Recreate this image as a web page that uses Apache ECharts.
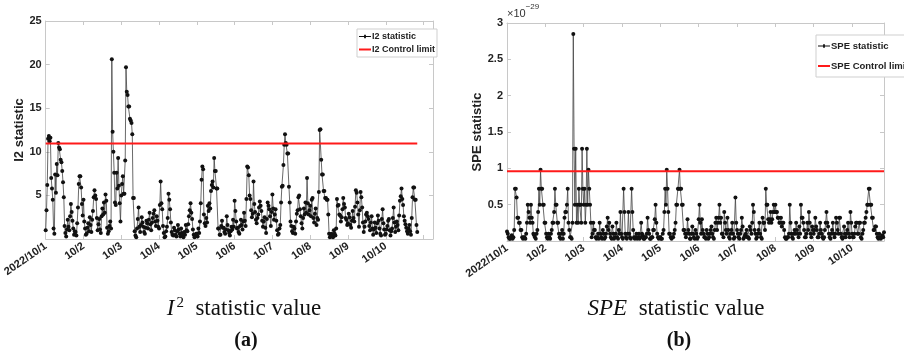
<!DOCTYPE html>
<html>
<head>
<meta charset="utf-8">
<script src="https://cdn.jsdelivr.net/npm/echarts@6/dist/echarts.min.js"></script>
<style>
html,body{margin:0;padding:0;background:#fff;}
#c{width:904px;height:360px;}
</style>
</head>
<body>
<div id="c"></div>
<script>
// x tick labels (one per day); samples every half hour from 2022/10/1 00:00
var dayLabels = ['2022/10/1','10/2','10/3','10/4','10/5','10/6','10/7','10/8','10/9','10/10'];
var stepHours = 0.5;

// I2 statistic
var i2Values = [
  1.0, 3.3, 6.2, 11.5, 11.8, 11.2, 11.6, 7.0, 5.8, 4.5, 1.2, 0.6, 7.4, 5.3, 8.6, 7.3, 11.0, 10.5, 10.3, 9.1, 8.8, 7.8, 6.5, 4.8, 1.5, 0.7, 0.3, 1.1, 2.2, 1.4, 1.0, 2.6, 4.0, 3.1, 2.1, 1.2, 0.5, 0.9, 0.8, 0.4, 1.8, 3.6, 6.3, 7.2, 7.2, 5.9, 4.0, 2.7,
  4.5, 2.0, 1.2, 0.5, 0.6, 1.3, 1.8, 0.9, 2.5, 1.6, 0.8, 2.2, 3.2, 4.8, 5.6, 5.0, 4.6, 2.4, 1.0, 1.7, 2.3, 1.1, 0.7, 2.6, 3.5, 2.8, 4.2, 3.0, 5.1, 4.4, 1.3, 0.6, 0.9, 1.5, 2.0, 1.2, 20.6, 12.3, 10.0, 7.6, 4.2, 3.9, 7.6, 5.8, 9.3, 6.1, 4.1, 2.0,
  5.0, 6.3, 7.2, 5.2, 5.2, 9.0, 19.7, 16.9, 16.5, 15.2, 15.2, 13.8, 13.6, 13.3, 12.0, 4.7, 4.7, 0.9, 0.4, 0.2, 1.2, 2.3, 3.6, 1.4, 0.8, 1.6, 2.5, 1.9, 1.4, 0.8, 0.6, 1.3, 2.1, 1.8, 1.2, 2.2, 3.0, 1.7, 1.0, 1.9, 2.4, 2.9, 3.3, 2.0, 1.5, 2.6, 2.1, 1.4,
  1.2, 3.9, 6.6, 4.1, 3.4, 1.5, 0.7, 0.2, 0.3, 0.9, 1.4, 2.4, 5.2, 4.5, 3.4, 1.9, 0.8, 0.5, 0.4, 1.3, 1.0, 0.5, 0.3, 0.9, 1.6, 1.1, 0.6, 0.3, 1.2, 0.7, 0.4, 0.2, 0.8, 0.5, 1.6, 1.0, 0.9, 1.7, 2.6, 3.3, 4.1, 3.0, 2.3, 1.1, 0.5, 0.2, 0.3, 0.6,
  0.6, 0.3, 1.2, 0.7, 2.0, 4.1, 6.8, 8.3, 8.0, 2.8, 1.8, 1.5, 2.4, 1.9, 3.8, 3.2, 4.1, 3.5, 5.5, 6.2, 6.6, 5.9, 9.3, 7.8, 7.8, 5.8, 5.8, 1.2, 1.2, 0.5, 0.5, 1.5, 2.1, 1.3, 1.3, 0.8, 0.6, 1.1, 2.6, 1.6, 1.0, 0.7, 0.4, 0.9, 1.4, 1.1, 2.2, 1.4,
  4.4, 3.2, 2.0, 1.2, 1.3, 0.8, 0.6, 1.5, 2.2, 1.6, 1.1, 2.0, 3.0, 2.1, 1.5, 4.6, 8.3, 8.2, 7.3, 5.0, 4.6, 3.3, 2.5, 2.9, 6.6, 4.0, 3.1, 2.2, 1.8, 2.4, 2.8, 3.6, 4.3, 3.8, 3.2, 2.1, 1.4, 2.0, 2.5, 1.3, 0.7, 2.3, 4.2, 3.8, 3.4, 2.6, 1.5, 3.1,
  5.1, 3.5, 2.2, 2.8, 3.4, 2.1, 1.0, 0.5, 0.6, 1.2, 1.6, 4.2, 6.0, 6.1, 8.5, 10.8, 12.0, 11.0, 10.8, 9.8, 9.8, 6.0, 4.2, 2.0, 1.5, 0.9, 0.7, 1.4, 1.2, 0.6, 2.0, 2.9, 3.3, 4.8, 5.0, 3.4, 2.6, 1.8, 1.2, 2.4, 3.5, 2.8, 4.2, 3.0, 7.0, 4.1, 2.8, 3.3,
  3.8, 2.6, 4.5, 4.7, 2.4, 1.9, 2.9, 3.5, 1.6, 2.4, 2.2, 5.4, 12.5, 12.6, 9.1, 7.4, 7.4, 5.5, 5.5, 4.7, 4.7, 4.5, 4.5, 2.8, 0.6, 0.2, 0.3, 0.6, 0.5, 0.2, 1.0, 0.6, 0.4, 1.2, 4.6, 3.8, 3.9, 2.8, 2.7, 2.0, 2.5, 3.4, 4.7, 4.0, 3.6, 2.4, 2.2, 1.6,
  1.8, 2.9, 2.5, 1.6, 1.3, 2.1, 3.2, 2.4, 2.0, 3.7, 5.6, 5.3, 4.2, 2.8, 1.4, 3.3, 5.4, 4.8, 3.6, 1.9, 0.8, 1.4, 2.0, 2.8, 3.0, 2.6, 2.3, 1.5, 1.0, 1.9, 2.6, 1.2, 0.5, 1.1, 1.9, 1.3, 0.7, 1.8, 2.7, 2.1, 1.2, 0.6, 0.4, 2.3, 3.4, 1.8, 1.1, 0.5,
  0.6, 1.1, 1.5, 2.1, 2.3, 1.0, 0.4, 0.9, 1.2, 2.4, 3.6, 1.9, 0.8, 1.4, 2.0, 1.6, 1.0, 2.7, 4.4, 4.9, 5.8, 4.6, 3.9, 2.6, 2.1, 1.7, 1.3, 0.9, 0.6, 1.2, 1.6, 0.9, 0.5, 2.4, 4.8, 5.9, 5.9, 4.5, 4.5, 1.6, 0.8
];
var i2Limit = 10.95;

// SPE statistic, in units of 1e-29
var speValues = [
  0.13, 0.1, 0.05, 0.03, 0.03, 0.05, 0.08, 0.03, 0.05, 0.15, 0.72, 0.72, 0.6, 0.32, 0.32, 0.25, 0.25, 0.15, 0.15, 0.05, 0.03, 0.05, 0.05, 0.03, 0.1, 0.25, 0.5, 0.4, 0.32, 0.25, 0.5, 0.32, 0.25, 0.1, 0.08, 0.05, 0.03, 0.1, 0.15, 0.4, 0.72, 0.5, 0.98, 0.72, 0.72, 0.5, 0.5, 0.25,
  0.25, 0.1, 0.05, 0.03, 0.1, 0.05, 0.03, 0.1, 0.15, 0.25, 0.25, 0.4, 0.72, 0.5, 0.5, 0.25, 0.25, 0.1, 0.05, 0.03, 0.1, 0.15, 0.03, 0.1, 0.32, 0.4, 0.4, 0.5, 0.72, 0.25, 0.15, 0.05, 0.05, 0.03, 0.25, 2.85, 1.27, 0.5, 1.27, 0.25, 0.5, 0.25, 0.72, 0.5, 0.5, 0.25, 1.27, 0.72,
  0.5, 0.72, 0.25, 0.5, 1.27, 0.5, 0.98, 0.72, 0.5, 0.25, 0.05, 0.1, 0.25, 0.15, 0.15, 0.05, 0.03, 0.05, 0.1, 0.03, 0.25, 0.1, 0.05, 0.03, 0.15, 0.1, 0.03, 0.05, 0.1, 0.2, 0.32, 0.15, 0.25, 0.1, 0.05, 0.03, 0.2, 0.1, 0.03, 0.05, 0.1, 0.25, 0.05, 0.03, 0.15, 0.1, 0.4, 0.1,
  0.05, 0.03, 0.72, 0.4, 0.1, 0.05, 0.03, 0.1, 0.4, 0.1, 0.05, 0.03, 0.72, 0.4, 0.15, 0.05, 0.03, 0.05, 0.1, 0.03, 0.05, 0.1, 0.03, 0.05, 0.25, 0.1, 0.08, 0.03, 0.03, 0.05, 0.05, 0.1, 0.32, 0.15, 0.1, 0.03, 0.03, 0.05, 0.05, 0.15, 0.15, 0.3, 0.5, 0.25, 0.1, 0.05, 0.03, 0.05,
  0.05, 0.03, 0.03, 0.1, 0.15, 0.4, 0.72, 0.5, 0.98, 0.72, 0.4, 0.1, 0.1, 0.05, 0.03, 0.05, 0.05, 0.1, 0.15, 0.25, 0.5, 0.5, 0.72, 0.72, 0.98, 0.72, 0.72, 0.5, 0.5, 0.15, 0.15, 0.1, 0.05, 0.1, 0.3, 0.15, 0.1, 0.03, 0.03, 0.1, 0.2, 0.1, 0.05, 0.03, 0.15, 0.1, 0.03, 0.05,
  0.3, 0.5, 0.25, 0.1, 0.3, 0.15, 0.1, 0.05, 0.05, 0.03, 0.15, 0.1, 0.03, 0.05, 0.1, 0.15, 0.2, 0.1, 0.05, 0.03, 0.15, 0.25, 0.32, 0.15, 0.25, 0.32, 0.5, 0.25, 0.32, 0.1, 0.1, 0.05, 0.4, 0.25, 0.15, 0.1, 0.32, 0.15, 0.05, 0.03, 0.1, 0.15, 0.25, 0.1, 0.03, 0.05, 0.6, 0.25,
  0.15, 0.1, 0.05, 0.03, 0.1, 0.15, 0.32, 0.2, 0.03, 0.05, 0.08, 0.1, 0.15, 0.05, 0.05, 0.03, 0.2, 0.15, 0.1, 0.25, 0.5, 0.4, 0.15, 0.1, 0.03, 0.05, 0.1, 0.15, 0.25, 0.1, 0.05, 0.03, 0.32, 0.25, 0.25, 0.15, 0.72, 0.5, 0.5, 0.3, 0.25, 0.3, 0.4, 0.25, 0.3, 0.4, 0.5, 0.4,
  0.5, 0.4, 0.4, 0.32, 0.32, 0.25, 0.25, 0.32, 0.2, 0.25, 0.25, 0.15, 0.05, 0.03, 0.03, 0.05, 0.05, 0.1, 0.5, 0.25, 0.1, 0.05, 0.03, 0.1, 0.15, 0.1, 0.25, 0.15, 0.1, 0.05, 0.2, 0.1, 0.5, 0.32, 0.32, 0.25, 0.15, 0.05, 0.05, 0.1, 0.25, 0.15, 0.4, 0.25, 0.1, 0.05, 0.2, 0.15,
  0.1, 0.15, 0.32, 0.2, 0.15, 0.05, 0.05, 0.1, 0.25, 0.15, 0.1, 0.05, 0.03, 0.05, 0.15, 0.25, 0.4, 0.25, 0.2, 0.1, 0.05, 0.03, 0.1, 0.15, 0.25, 0.1, 0.05, 0.1, 0.32, 0.25, 0.15, 0.1, 0.32, 0.32, 0.1, 0.05, 0.03, 0.05, 0.2, 0.1, 0.05, 0.1, 0.15, 0.25, 0.1, 0.05, 0.4, 0.25,
  0.1, 0.05, 0.05, 0.1, 0.2, 0.25, 0.25, 0.1, 0.1, 0.25, 0.25, 0.05, 0.03, 0.1, 0.15, 0.25, 0.25, 0.32, 0.4, 0.5, 0.5, 0.72, 0.72, 0.5, 0.5, 0.32, 0.32, 0.15, 0.15, 0.2, 0.2, 0.1, 0.05, 0.03, 0.1, 0.05, 0.03, 0.05, 0.08, 0.05, 0.12
];
var speLimit = 0.96;

var i2AxisMax = 25, i2Interval = 5;
var speAxisMax = 3, speInterval = 0.5;

function toPairs(arr) { return arr.map(function (v, i) { return [i * stepHours, v]; }); }
var lastHour = (i2Values.length - 1) * stepHours;

var chart = echarts.init(document.getElementById('c'), null, {renderer: 'canvas'});
var boxColor = '#c8c8c8';
var labelFont = {color: '#222', fontWeight: 'bold', fontFamily: 'Arial, Liberation Sans', fontSize: 11};

function xAxisDef(grid, max, bottom) {
  return {
    type: 'value', gridIndex: grid, min: 0, max: max, interval: 24, position: bottom ? 'bottom' : 'top',
    axisLine: {show: true, onZero: false, lineStyle: {color: boxColor, width: 1}},
    axisTick: {show: true, inside: true, length: 4, lineStyle: {color: boxColor}},
    splitLine: {show: false},
    axisLabel: bottom ? Object.assign({}, labelFont, {
      rotate: 35, margin: 6, showMaxLabel: false,
      formatter: function (v) { var k = Math.round(v / 24); return (v % 24 === 0 && k < dayLabels.length) ? dayLabels[k] : ''; }
    }) : {show: false}
  };
}
function yAxisDef(grid, max, interval, left, name, gap) {
  var a = {
    type: 'value', gridIndex: grid, min: 0, max: max, interval: interval, position: left ? 'left' : 'right',
    axisLine: {show: true, onZero: false, lineStyle: {color: boxColor, width: 1}},
    axisTick: {show: true, inside: true, length: 4, lineStyle: {color: boxColor}},
    splitLine: {show: false},
    axisLabel: left ? Object.assign({}, labelFont, {margin: 4, showMinLabel: false}) : {show: false}
  };
  if (left) {
    a.name = name; a.nameLocation = 'middle'; a.nameGap = gap; a.nameRotate = 90;
    a.nameTextStyle = {color: '#222', fontWeight: 'bold', fontFamily: 'Arial, Liberation Sans', fontSize: 13};
  }
  return a;
}

var statIcon = 'path://M0 3.6 H12 V4.4 H0 Z M5.1 2.3 H6.9 V5.7 H5.1 Z';
var limitIcon = 'path://M0 0 H12 V2 H0 Z';

var option = {
  backgroundColor: '#fff',
  animation: false,
  grid: [
    {left: 40, top: 21, width: 393, height: 218},
    {left: 507, top: 23, width: 377, height: 218}
  ],
  xAxis: [xAxisDef(0, 246, true), xAxisDef(0, 246, false), xAxisDef(1, lastHour, true), xAxisDef(1, lastHour, false)],
  yAxis: [
    yAxisDef(0, i2AxisMax, i2Interval, true, 'I2 statistic', 11),
    yAxisDef(0, i2AxisMax, i2Interval, false),
    yAxisDef(1, speAxisMax, speInterval, true, 'SPE statistic', 16),
    yAxisDef(1, speAxisMax, speInterval, false)
  ],
  legend: [
    {
      data: [{name: 'I2 statistic', icon: statIcon}, {name: 'I2 Control limit', icon: limitIcon}],
      orient: 'vertical', left: 357, top: 29,
      itemWidth: 12, itemHeight: 8, itemGap: 4, padding: [3, 2, 3, 2],
      borderColor: '#cfcfcf', borderWidth: 1, backgroundColor: '#fff',
      textStyle: {color: '#222', fontWeight: 'bold', fontFamily: 'Arial, Liberation Sans', fontSize: 9, padding: [0, 0, 0, -4]}
    },
    {
      data: [{name: 'SPE statistic', icon: statIcon}, {name: 'SPE Control limit', icon: limitIcon}],
      orient: 'vertical', left: 816, top: 35,
      itemWidth: 12, itemHeight: 8, itemGap: 10, padding: [6, 3, 6, 2],
      borderColor: '#cfcfcf', borderWidth: 1, backgroundColor: '#fff',
      textStyle: {color: '#222', fontWeight: 'bold', fontFamily: 'Arial, Liberation Sans', fontSize: 9.5, padding: [0, 0, 0, -4]}
    }
  ],
  series: [
    {
      name: 'I2 statistic', type: 'line', xAxisIndex: 0, yAxisIndex: 0,
      data: toPairs(i2Values), symbol: 'circle', symbolSize: 4, showSymbol: true,
      lineStyle: {color: '#444', width: 0.8}, itemStyle: {color: '#111'}, z: 2
    },
    {
      name: 'I2 Control limit', type: 'line', xAxisIndex: 0, yAxisIndex: 0,
      data: [[0, i2Limit], [lastHour, i2Limit]], symbol: 'none',
      lineStyle: {color: '#ff1a1a', width: 2}, itemStyle: {color: '#ff1a1a'}, z: 3
    },
    {
      name: 'SPE statistic', type: 'line', xAxisIndex: 2, yAxisIndex: 2,
      data: toPairs(speValues), symbol: 'circle', symbolSize: 4, showSymbol: true,
      lineStyle: {color: '#444', width: 0.8}, itemStyle: {color: '#111'}, z: 2
    },
    {
      name: 'SPE Control limit', type: 'line', xAxisIndex: 2, yAxisIndex: 2,
      data: [[0, speLimit], [lastHour, speLimit]], symbol: 'none',
      lineStyle: {color: '#ff1a1a', width: 2}, itemStyle: {color: '#ff1a1a'}, z: 3
    }
  ],
  graphic: [
    {
      type: 'text', left: 507, top: 3,
      style: {
        text: '{a|×10}{s|−29}',
        rich: {
          a: {fontFamily: 'Arial, Liberation Sans', fontSize: 11, fill: '#333', padding: [8, 0, 0, 0]},
          s: {fontFamily: 'Arial, Liberation Sans', fontSize: 8, fill: '#333', padding: [0, 0, 6, 0]}
        }
      }
    },
    {
      type: 'text', x: 244, y: 309,
      style: {
        text: '{i|I}{s|2}{n|  statistic value}', align: 'center', verticalAlign: 'middle',
        rich: {
          i: {fontFamily: 'Liberation Serif, Times New Roman', fontStyle: 'italic', fontSize: 23, fill: '#111'},
          s: {fontFamily: 'Liberation Serif, Times New Roman', fontSize: 15, fill: '#111', padding: [0, 0, 12, 2]},
          n: {fontFamily: 'Liberation Serif, Times New Roman', fontSize: 23, fill: '#111'}
        }
      }
    },
    {
      type: 'text', x: 246, y: 341,
      style: {
        text: '(a)', align: 'center', verticalAlign: 'middle',
        fontFamily: 'Liberation Serif, Times New Roman', fontWeight: 'bold', fontSize: 20, fill: '#111'
      }
    },
    {
      type: 'text', x: 676, y: 309,
      style: {
        text: '{i|SPE}{n|  statistic value}', align: 'center', verticalAlign: 'middle',
        rich: {
          i: {fontFamily: 'Liberation Serif, Times New Roman', fontStyle: 'italic', fontSize: 23, fill: '#111'},
          n: {fontFamily: 'Liberation Serif, Times New Roman', fontSize: 23, fill: '#111'}
        }
      }
    },
    {
      type: 'text', x: 679, y: 341,
      style: {
        text: '(b)', align: 'center', verticalAlign: 'middle',
        fontFamily: 'Liberation Serif, Times New Roman', fontWeight: 'bold', fontSize: 20, fill: '#111'
      }
    }
  ]
};
chart.setOption(option);
</script>
</body>
</html>
